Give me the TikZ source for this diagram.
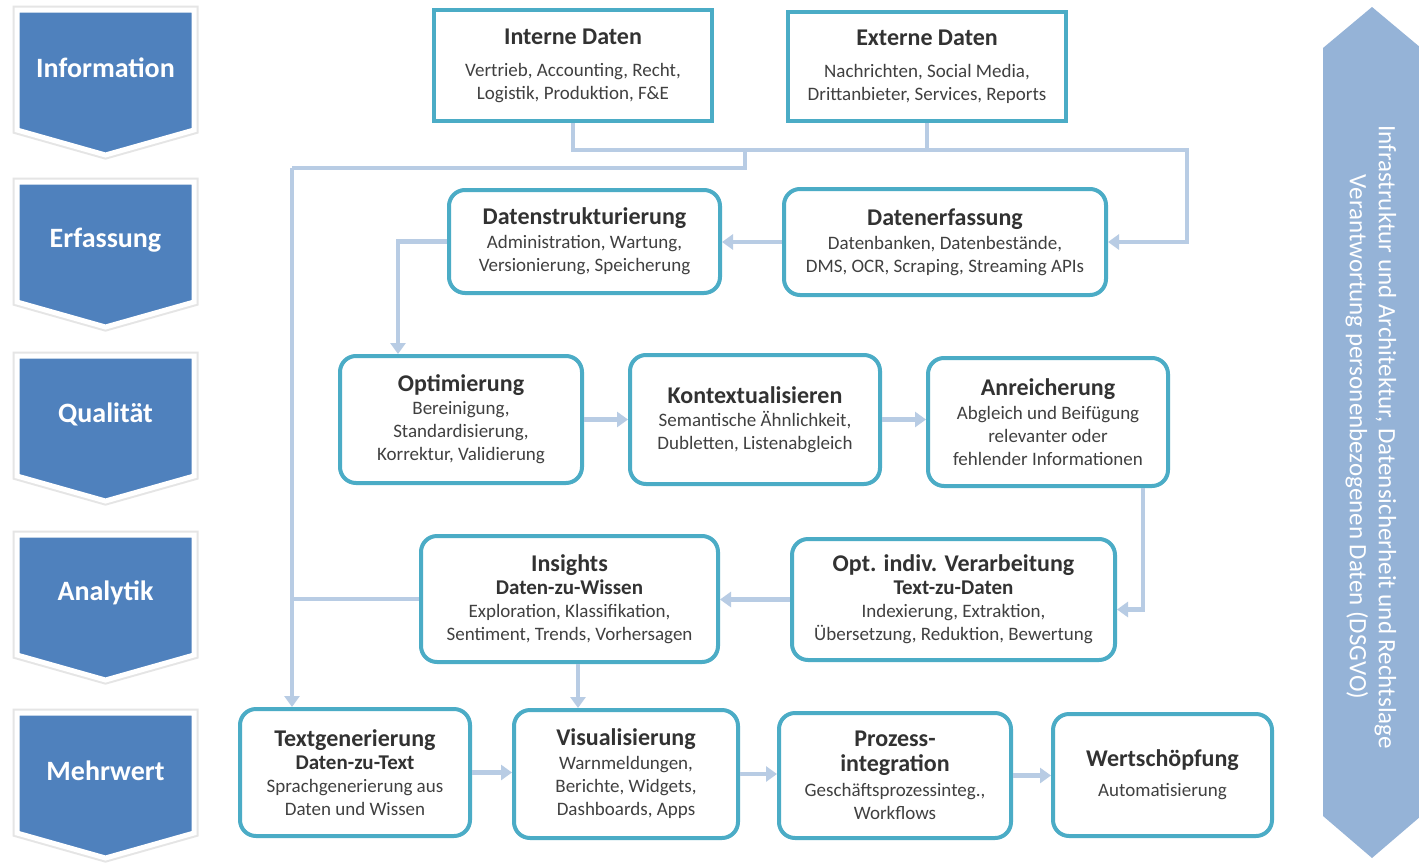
\documentclass[tikz,border=0pt]{standalone}
\usepackage{fontspec}
\setmainfont{Carlito}
\usetikzlibrary{arrows.meta,calc}
\definecolor{chev}{RGB}{79,129,189}
\definecolor{boxc}{RGB}{75,172,198}
\definecolor{linec}{RGB}{184,204,228}
\definecolor{banc}{RGB}{149,179,215}
\definecolor{txt}{RGB}{64,64,64}
\definecolor{ttl}{RGB}{50,50,50}
\newcommand\tf[1]{{\fontsize{24}{26}\selectfont\bfseries\color{ttl}#1}}
\newcommand\stf[1]{{\fontsize{21}{23}\selectfont\bfseries\color{ttl}#1}}
\tikzset{
  box/.style={draw=boxc, line width=4pt, rounded corners=16pt, fill=white, align=center,
    text=txt, font=\fontsize{19}{23}\selectfont, inner sep=0pt},
  sbox/.style={box, rounded corners=0pt},
  conn/.style={draw=linec, line width=4.5pt},
  arr/.style={conn, -{Triangle[width=15pt,length=11pt]}},
  chevsh/.style={fill=chev, draw=white, line width=5pt, line join=miter},
  chevshadow/.style={draw=black!10, line width=9pt, line join=miter},
  chevtxt/.style={text=white, font=\fontsize{28}{32}\selectfont\bfseries},
}
\begin{document}
\begin{tikzpicture}[x=1pt,y=-1pt]
\useasboundingbox (0,0) rectangle (1419,865);
\fill[white] (0,0) rectangle (1419,865);

% chevrons
\foreach \t/\lab in {10/Information,182/Erfassung,356/Qualität,535/Analytik,713/Mehrwert}{
  \draw[chevshadow] (17,\t) -- (194,\t) -- (194,\t+120) -- (105.5,\t+145) -- (17,\t+120) -- cycle;
  \draw[chevsh] (17,\t) -- (194,\t) -- (194,\t+120) -- (105.5,\t+145) -- (17,\t+120) -- cycle;
  \node[chevtxt] (c\t) at (105.5,\t+58) {\lab};
}

% right banner
\begin{scope}
\clip (0,0) rectangle (1419,865);
\fill[banc] (1372,7) -- (1421,48) -- (1421,816) -- (1372,858) -- (1323,816) -- (1323,48) -- cycle;
\end{scope}
\node[rotate=-90, text=white, align=center, font=\fontsize{25}{29}\selectfont] (ban) at (1371,437)
  {Infrastruktur und Architektur, Datensicherheit und Rechtslage\\Verantwortung personenbezogenen Daten (DSGVO)};

% boxes
\node[sbox, minimum width=278pt, minimum height=111pt] (intern) at (573,65.5)
  {\tf{Interne Daten}\\[9pt]Vertrieb, Accounting, Recht,\\Logistik, Produktion, F\&E};
\node[sbox, minimum width=278pt, minimum height=109pt] (extern) at (927,66.5)
  {\tf{Externe Daten}\\[9pt]Nachrichten, Social Media,\\Drittanbieter, Services, Reports};
\node[box, minimum width=271pt, minimum height=103pt] (dstr) at (584.5,241.5)
  {\tf{Datenstrukturierung}\\[1pt]Administration, Wartung,\\Versionierung, Speicherung};
\node[box, minimum width=322pt, minimum height=106pt] (derf) at (945,242)
  {\tf{Datenerfassung}\\[1pt]Datenbanken, Datenbestände,\\DMS, OCR, Scraping, Streaming APIs};
\node[box, minimum width=242pt, minimum height=127pt] (opt) at (461,419.5)
  {\tf{Optimierung}\\Bereinigung,\\Standardisierung,\\Korrektur, Validierung};
\node[box, minimum width=250pt, minimum height=129pt] (kon) at (755,419.5)
  {\tf{Kontextualisieren}\\Semantische Ähnlichkeit,\\Dubletten, Listenabgleich};
\node[box, minimum width=240pt, minimum height=128pt] (anr) at (1048,422)
  {\tf{Anreicherung}\\[1pt]Abgleich und Beifügung\\relevanter oder\\fehlender Informationen};
\node[box, minimum width=297pt, minimum height=126pt] (ins) at (569.5,599)
  {\tf{Insights}\\\stf{Daten-zu-Wissen}\\Exploration, Klassifikation,\\Sentiment, Trends, Vorhersagen};
\node[box, minimum width=323pt, minimum height=121pt] (oiv) at (953.5,599.5)
  {\tf{Opt. indiv. Verarbeitung}\\\stf{Text-zu-Daten}\\Indexierung, Extraktion,\\Übersetzung, Reduktion, Bewertung};
\node[box, minimum width=230pt, minimum height=127pt] (txtg) at (355,772.5)
  {\tf{Textgenerierung}\\\stf{Daten-zu-Text}\\Sprachgenerierung aus\\Daten und Wissen};
\node[box, minimum width=224pt, minimum height=128pt] (vis) at (626,774)
  {\tf{Visualisierung}\\[1pt]Warnmeldungen,\\Berichte, Widgets,\\Dashboards, Apps};
\node[box, minimum width=232pt, minimum height=125pt] (proz) at (895,775.5)
  {\tf{Prozess-}\\[2pt]\tf{integration}\\[2pt]Geschäftsprozessinteg.,\\Workflows};
\node[box, minimum width=219pt, minimum height=122pt] (wert) at (1162.5,775)
  {\tf{Wertschöpfung}\\[7pt]Automatisierung};

% connector coordinates
\coordinate (jE) at (1187,150);
\coordinate (jM) at (745,150);
\coordinate (jL) at (292,168);
\coordinate (k1) at (398,0);
\coordinate (k2) at (1143,0);
\coordinate (k3) at (578,0);

% connectors
\draw[conn] (jM) |- (jL);
\draw[arr] (jL) -- (jL |- txtg.north);
\draw[conn] (ins.west) -- (ins.west -| jL);
\draw[conn] (extern.south) -- (extern.south |- jE);
\draw[arr] (intern.south) |- (jE) |- (derf.east);
\draw[arr] (derf.west) -- (derf.west -| dstr.east);
\draw[arr] (dstr.west) -| (k1 |- opt.north);
\draw[arr] (opt.east) -- (opt.east -| kon.west);
\draw[arr] (kon.east) -- (kon.east -| anr.west);
\draw[arr] (k2 |- anr.south) |- ($(oiv.east)+(0,10)$);
\draw[arr] (oiv.west) -- (oiv.west -| ins.east);
\draw[arr] (k3 |- ins.south) -- (k3 |- vis.north);
\draw[arr] (txtg.east) -- (txtg.east -| vis.west);
\draw[arr] (vis.east) -- (vis.east -| proz.west);
\draw[arr] (proz.east) -- (proz.east -| wert.west);
\end{tikzpicture}
\end{document}
